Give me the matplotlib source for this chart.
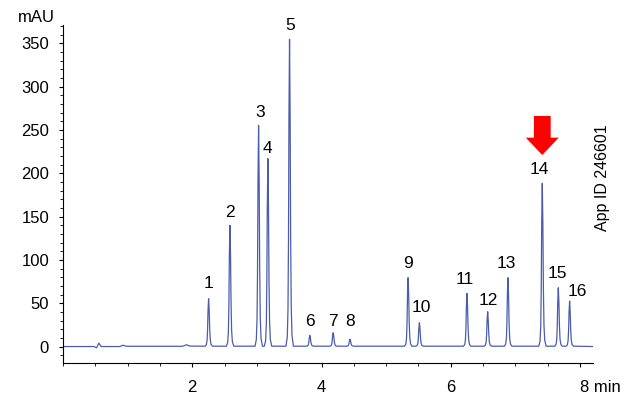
import matplotlib
matplotlib.use("Agg")
import matplotlib.pyplot as plt
from matplotlib.patches import FancyArrow
from matplotlib.ticker import MultipleLocator

plt.rcParams['font.family'] = ['Liberation Sans', 'DejaVu Sans']

# Baseline points (time in min, signal in mAU)
baseline_time = [0.0, 0.48, 0.52, 0.555, 0.59, 0.88, 0.93, 0.98, 1.85, 1.91, 1.97, 8.22]
baseline_mau = [0.0, 0.0, -1.5, 4.0, 0.0, 0.0, 1.5, 0.3, 0.3, 2.0, 0.5, 0.0]

# Peaks: retention time (min) and apex height (mAU)
peak_time = [2.253, 2.583, 3.026, 3.170, 3.505, 3.819, 4.180, 4.440,
             5.339, 5.514, 6.250, 6.570, 6.884, 7.415, 7.663, 7.838]
peak_height = [54.7, 139.4, 254.8, 216.4, 354.2, 12.4, 15.5, 8.0,
               79.0, 27.0, 60.8, 39.7, 79.0, 187.9, 67.4, 52.0]

# Peak shape: time offset from apex and fraction of apex
profile_offset = [-0.055, -0.035, -0.024, -0.016, -0.009, 0.0, 0.009, 0.017, 0.026, 0.038, 0.06]
profile_fraction = [0.0, 0.03, 0.12, 0.35, 0.75, 1.0, 0.75, 0.36, 0.13, 0.035, 0.0]

# Peak labels and their positions
peak_labels = [str(i) for i in range(1, 17)]
label_x = [2.253, 2.583, 3.046, 3.170, 3.510, 3.819, 4.180, 4.436,
           5.334, 5.550, 6.215, 6.586, 6.864, 7.370, 7.652, 7.962]
label_y = [73, 155, 270, 229, 370, 29, 29, 29,
           95.5, 44.7, 77, 53, 95.5, 204, 84, 63.5]

highlight_peak_time = 7.415
yticks = [0, 50, 100, 150, 200, 250, 300, 350]
xticks = [2, 4, 6, 8]
xticklabels = ['2', '4', '6', '8 min']

# assemble trace
pts = list(zip(baseline_time, baseline_mau))
for t0, h in zip(peak_time, peak_height):
    for off, fr in zip(profile_offset, profile_fraction):
        pts.append((t0 + off, 0.4 + h * fr))
pts.sort()
trace_t = [p[0] for p in pts]
trace_y = [p[1] for p in pts]

fig = plt.figure(figsize=(6.4, 4.15), dpi=100)
ax = fig.add_axes([0.0984, 0.1253, 0.8282, 0.8145])

ax.plot(trace_t, trace_y, color='#4b5cad', lw=0.9)

ax.set_xlim(0, 8.2)
ax.set_ylim(-19, 371)
for s in ['top', 'right']:
    ax.spines[s].set_visible(False)
for s in ['left', 'bottom']:
    ax.spines[s].set_linewidth(0.8)

ax.set_yticks(yticks)
ax.yaxis.set_minor_locator(MultipleLocator(10))
ax.set_xticks(xticks)
ax.set_xticklabels(xticklabels)
ax.xaxis.set_minor_locator(MultipleLocator(0.5))
ax.tick_params(axis='both', which='major', direction='out', length=3, width=0.8,
               labelsize=12)
ax.tick_params(axis='both', which='minor', direction='out', length=2, width=0.6)
ax.tick_params(axis='y', which='major', pad=7)
ax.tick_params(axis='x', which='major', pad=9)
for lbl in ax.get_xticklabels():
    if lbl.get_text() == '8 min':
        lbl.set_horizontalalignment('left')
        lbl.set_x(8)

for txt, x, y in zip(peak_labels, label_x, label_y):
    ax.text(x, y, txt, ha='center', va='center', fontsize=12.5, clip_on=False)

# red arrow pointing at peak 14
arrow = FancyArrow(highlight_peak_time, 266, 0, -45, width=0.26, head_width=0.51,
                   head_length=20, length_includes_head=True, color='#ff0000',
                   lw=0, clip_on=False)
ax.add_patch(arrow)

fig.text(0.057, 0.957, 'mAU', ha='center', va='center', fontsize=12)
fig.text(0.9417, 0.571, 'App ID 246601', rotation=90, ha='center', va='center',
         fontsize=11.5)

fig.savefig('out.png', dpi=100)
